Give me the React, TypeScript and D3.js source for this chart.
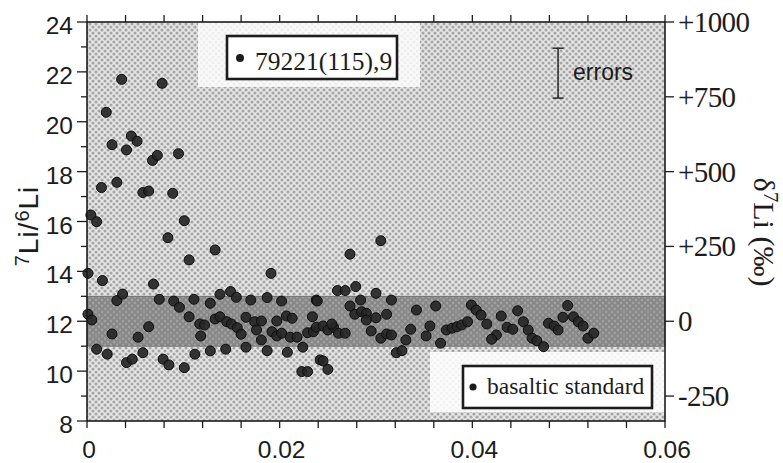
import React from "react";
import * as d3 from "d3";

// 7Li/6Li ratio measurements of lunar sample 79221(115),9 against depth
const depth = [
  0.0036, 0.0078, 0.002, 0.0026, 0.0046, 0.0052, 0.0041, 0.0068, 0.0073, 0.0095,
  0.0015, 0.0031, 0.0058, 0.0064, 0.0089, 0.0004, 0.001, 0.0101, 0.0084, 0.0106,
  0.0133, 0.0001, 0.0016, 0.0069, 0.0031, 0.0037, 0.0075, 0.009, 0.0096, 0.0106,
  0.0111, 0.0128, 0.0138, 0.0149, 0.0155, 0.017, 0.0001, 0.0005, 0.0026, 0.0053,
  0.0064, 0.0117, 0.0122, 0.0118, 0.0133, 0.0138, 0.0145, 0.015, 0.0156, 0.016,
  0.0165, 0.001, 0.0021, 0.0041, 0.0047, 0.0058, 0.0079, 0.0085, 0.0101, 0.0112,
  0.0128, 0.0144, 0.0165, 0.0174, 0.0181, 0.0176, 0.0191, 0.0187, 0.0202, 0.0238,
  0.0197, 0.0207, 0.0213, 0.0234, 0.0192, 0.0197, 0.0202, 0.0211, 0.0218, 0.0229,
  0.0235, 0.0181, 0.0187, 0.0208, 0.0224, 0.0242, 0.0223, 0.0229, 0.0305, 0.0273,
  0.026, 0.0268, 0.0279, 0.03, 0.0239, 0.0284, 0.0316, 0.0273, 0.0278, 0.0285,
  0.029, 0.029, 0.03, 0.0311, 0.0342, 0.0238, 0.0245, 0.025, 0.0256, 0.0261,
  0.0268, 0.0254, 0.0295, 0.0305, 0.0311, 0.0316, 0.0336, 0.0331, 0.0352, 0.0356,
  0.0321, 0.0327, 0.0245, 0.025, 0.0362, 0.0367, 0.0373, 0.0379, 0.0384, 0.0389,
  0.0395, 0.0399, 0.0404, 0.0409, 0.0415, 0.043, 0.0447, 0.0436, 0.0442, 0.0425,
  0.042, 0.0453, 0.0458, 0.0462, 0.0467, 0.0474, 0.0479, 0.0485, 0.0489, 0.0494,
  0.0499, 0.0505, 0.051, 0.0515, 0.052, 0.0526,
];
const ratio = [
  21.7, 21.54, 20.38, 19.08, 19.43, 19.22, 18.87, 18.45, 18.65, 18.72,
  17.36, 17.57, 17.16, 17.22, 17.13, 16.26, 15.99, 16.03, 15.35, 14.46,
  14.86, 13.92, 13.63, 13.49, 12.83, 13.09, 12.88, 12.81, 12.56, 12.18,
  12.88, 12.72, 13.08, 13.19, 12.96, 12.85, 12.28, 12.05, 11.49, 11.36,
  11.78, 11.89, 11.85, 11.41, 12.09, 12.18, 11.98, 11.89, 11.74, 11.48,
  12.16, 10.88, 10.68, 10.34, 10.48, 10.74, 10.48, 10.25, 10.14, 10.68,
  10.81, 10.88, 10.96, 11.98, 12.01, 11.65, 13.92, 12.95, 12.81, 12.85,
  12.01, 12.21, 12.12, 12.18, 11.58, 11.41, 11.52, 11.36, 11.36, 11.54,
  11.58, 11.25, 10.82, 10.76, 10.96, 10.45, 9.98, 9.98, 15.23, 14.69,
  13.23, 13.23, 13.39, 13.12, 12.81, 12.85, 12.85, 12.61, 12.28, 12.38,
  12.32, 12.05, 12.14, 12.28, 12.45, 11.76, 11.81, 11.65, 11.76, 11.52,
  11.52, 11.89, 11.61, 11.32, 11.49, 11.45, 11.68, 11.25, 11.41, 11.81,
  10.74, 10.82, 10.41, 10.07, 12.61, 11.12, 11.65, 11.72, 11.78, 11.85,
  11.98, 12.65, 12.45, 12.25, 11.89, 12.21, 12.42, 11.76, 11.68, 11.45,
  11.28, 11.98, 11.65, 11.32, 11.22, 10.98, 11.92, 11.81, 11.65, 12.16,
  12.63, 12.18, 11.98, 11.81, 11.32, 11.52,
];

// basaltic standard range and its reference ratio
const standardBand = [11, 13];
const standardRatio = 12;

// axis ticks
const xTickLabels = [0, 0.02, 0.04, 0.06];
const yTickLabels = [8, 10, 12, 14, 16, 18, 20, 22, 24];
const deltaTickLabels = [1000, 750, 500, 250, 0, -250];

// representative analytical error (±) shown in the corner
const errorPoint = { x: 0.0489, y: 21.95, err: 1 };

const W = 783;
const H = 463;
const left = 87;
const right = 665;
const top = 22;
const bottom = 421;

export default function App() {
  const x = d3.scaleLinear().domain([0, 0.06]).range([left, right]);
  const y = d3.scaleLinear().domain([8, 24]).range([bottom, top]);
  const yDelta = d3
    .scaleLinear()
    .domain([(8 / standardRatio - 1) * 1000, (24 / standardRatio - 1) * 1000])
    .range([bottom, top]);

  const minorX = d3.range(0, 0.0601, 0.004);
  const minorY = d3.range(8, 24.01, 1);
  const points = depth.map((d, i) => ({ x: d, y: ratio[i] }));

  const sans = "'Liberation Sans', Arial, Helvetica, sans-serif";
  const serif = "'Liberation Serif', 'Times New Roman', Times, serif";
  const ink = "#1c1c1c";

  return (
    <svg
      width={W}
      height={H}
      viewBox={`0 0 ${W} ${H}`}
      style={{ position: "absolute", left: 0, top: 0, background: "#fff" }}
    >
      <defs>
        <pattern id="bgDots" width="6" height="6" patternUnits="userSpaceOnUse">
          <rect width="6" height="6" fill="#e6e6e6" />
          <circle cx="0" cy="0" r="1.6" fill="#a6a6a6" />
          <circle cx="6" cy="0" r="1.6" fill="#a6a6a6" />
          <circle cx="0" cy="6" r="1.6" fill="#a6a6a6" />
          <circle cx="6" cy="6" r="1.6" fill="#a6a6a6" />
          <circle cx="3" cy="3" r="1.6" fill="#a6a6a6" />
        </pattern>
        <pattern id="bandDots" width="6" height="6" patternUnits="userSpaceOnUse">
          <rect width="6" height="6" fill="#868686" />
          <circle cx="0" cy="0" r="1.4" fill="#a0a0a0" />
          <circle cx="6" cy="0" r="1.4" fill="#a0a0a0" />
          <circle cx="0" cy="6" r="1.4" fill="#a0a0a0" />
          <circle cx="6" cy="6" r="1.4" fill="#a0a0a0" />
          <circle cx="3" cy="3" r="1.4" fill="#a0a0a0" />
        </pattern>
      </defs>

      {/* plot background */}
      <rect x={left} y={top} width={right - left} height={bottom - top} fill="url(#bgDots)" />
      {/* lighter areas behind the legends */}
      <rect x={198} y={top} width={222} height={65} fill="#fff" opacity={0.8} />
      <rect x={430} y={352} width={right - 430} height={60} fill="#fff" opacity={0.85} />

      {/* basaltic standard band */}
      <rect
        x={left}
        y={y(standardBand[1])}
        width={right - left}
        height={y(standardBand[0]) - y(standardBand[1])}
        fill="url(#bandDots)"
        stroke="#666"
        strokeWidth={0.8}
      />

      {/* data points */}
      <g>
        {points.map((p, i) => (
          <circle
            key={i}
            cx={x(p.x)}
            cy={y(p.y)}
            r={5}
            fill="#262626"
            stroke="#0d0d0d"
            strokeWidth={1}
            fillOpacity={0.92}
          />
        ))}
      </g>

      {/* error bar */}
      <g stroke={ink} strokeWidth={1.4}>
        <line x1={x(errorPoint.x)} x2={x(errorPoint.x)} y1={y(errorPoint.y + errorPoint.err)} y2={y(errorPoint.y - errorPoint.err)} />
        <line x1={x(errorPoint.x) - 5.5} x2={x(errorPoint.x) + 5.5} y1={y(errorPoint.y + errorPoint.err)} y2={y(errorPoint.y + errorPoint.err)} />
        <line x1={x(errorPoint.x) - 5.5} x2={x(errorPoint.x) + 5.5} y1={y(errorPoint.y - errorPoint.err)} y2={y(errorPoint.y - errorPoint.err)} />
      </g>
      <text x={x(errorPoint.x) + 15} y={y(errorPoint.y) + 7} fontFamily={sans} fontSize={23} fill={ink}>
        errors
      </text>

      {/* legend: sample */}
      <rect x={227} y={36} width={170} height={43} fill="#fff" stroke={ink} strokeWidth={2.6} />
      <circle cx={240} cy={58} r={4} fill={ink} />
      <text x={255} y={70} fontFamily={serif} fontSize={25.5} fill={ink}>
        79221(115),9
      </text>

      {/* legend: standard */}
      <rect x={463} y={366} width={189} height={42} fill="#fff" stroke={ink} strokeWidth={2.6} />
      <circle cx={473} cy={387} r={3.6} fill={ink} />
      <text x={487} y={394} fontFamily={serif} fontSize={23.5} fill={ink}>
        basaltic standard
      </text>

      {/* frame */}
      <rect x={left} y={top} width={right - left} height={bottom - top} fill="none" stroke={ink} strokeWidth={1.6} />

      {/* x ticks bottom and top */}
      <g stroke={ink} strokeWidth={1.3}>
        {minorX.map((t, i) => (
          <g key={i}>
            <line x1={x(t)} x2={x(t)} y1={bottom} y2={bottom + 7} />
            <line x1={x(t)} x2={x(t)} y1={top} y2={top - 7} />
          </g>
        ))}
      </g>
      {xTickLabels.map((t) => (
        <text key={t} x={x(t) + 2} y={458} textAnchor="middle" fontFamily={sans} fontSize={24.5} fill={ink}>
          {t === 0 ? "0" : d3.format(".2f")(t)}
        </text>
      ))}

      {/* left y ticks */}
      <g stroke={ink} strokeWidth={1.3}>
        {minorY.map((t) => (
          <line key={t} x1={left - (t % 2 === 0 ? 10 : 6)} x2={left} y1={y(t)} y2={y(t)} />
        ))}
      </g>
      {yTickLabels.map((t) => (
        <text key={t} x={73} y={y(t) + 12} textAnchor="end" fontFamily={sans} fontSize={24.5} fill={ink}>
          {t}
        </text>
      ))}

      {/* right δ7Li ticks */}
      <g stroke={ink} strokeWidth={1.3}>
        {deltaTickLabels.map((t) => (
          <line key={t} x1={right} x2={right + 9} y1={yDelta(t)} y2={yDelta(t)} />
        ))}
      </g>
      {deltaTickLabels.map((t) => (
        <text key={t} x={right + 13} y={yDelta(t) + 10} fontFamily={serif} fontSize={29} fill={ink} letterSpacing={-0.6}>
          {t > 0 ? `+${t}` : `${t}`}
        </text>
      ))}

      {/* axis titles */}
      <text
        transform={`translate(38, 226) rotate(-90)`}
        textAnchor="middle"
        fontFamily={sans}
        fontSize={28}
        fill={ink}
        letterSpacing={1}
      >
        <tspan fontSize={20} dy={-9}>7</tspan>
        <tspan dy={9}>Li/</tspan>
        <tspan fontSize={20} dy={-9}>6</tspan>
        <tspan dy={9}>Li</tspan>
      </text>
      <text
        transform={`translate(754, 232) rotate(90)`}
        textAnchor="middle"
        fontFamily={serif}
        fontSize={30}
        fill={ink}
      >
        <tspan>δ</tspan>
        <tspan fontSize={21} dy={-10}>7</tspan>
        <tspan dy={10}>Li (‰)</tspan>
      </text>
    </svg>
  );
}
